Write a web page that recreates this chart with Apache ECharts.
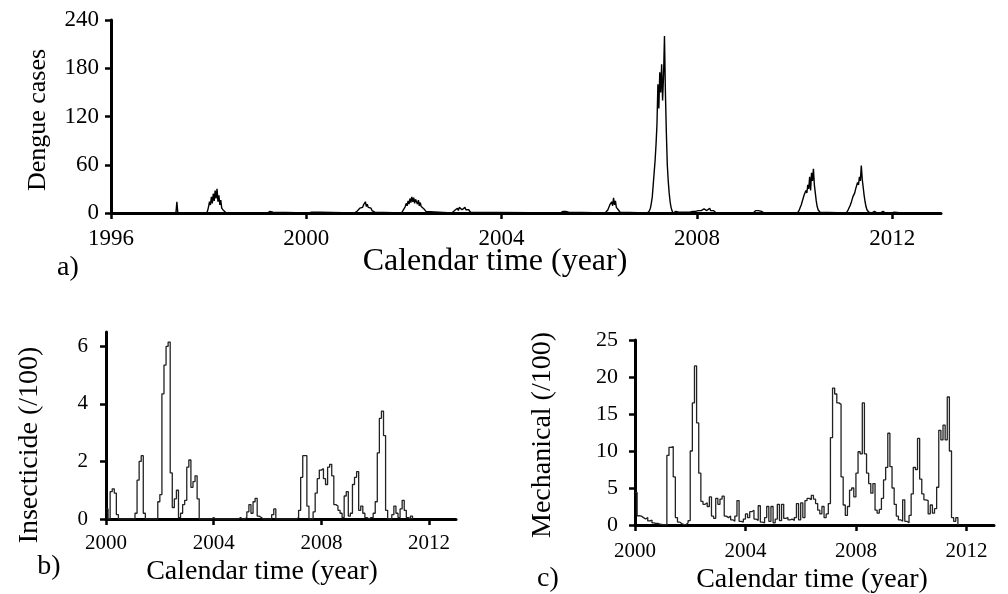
<!DOCTYPE html>
<html>
<head>
<meta charset="utf-8">
<script src="https://cdn.jsdelivr.net/npm/echarts@6/dist/echarts.min.js"></script>
<style>
html,body{margin:0;padding:0;background:#fff;}
#chart{width:1008px;height:594px;}
</style>
</head>
<body>
<div id="chart"></div>
<script>
// ---------- Data ----------
// a) Dengue cases: weekly values during each episode (zero elsewhere)
const dengueWeek = 1 / 52;
const dengueStarts = [1997.33, 1997.96, 1999.20, 2000.05, 2000.98, 2001.95, 2002.98, 2005.20, 2006.12, 2006.99, 2007.55, 2009.15, 2010.06, 2011.06, 2011.58];
const d1997 = [0, 14, 0];
const d1998 = [0, 3, 8, 14, 10, 20, 12, 24, 15, 28, 18, 30, 14, 22, 10, 16, 6, 8, 3, 2, 1, 0];
const d1999 = [0, 1, 0, 2, 1, 3, 1, 0];
const d2000 = [0, 2, 0, 1, 0, 0, 1, 2, 0, 1, 0, 0, 1, 0];
const d2001 = [0, 1, 2, 2, 3, 4, 6, 5, 8, 7, 10, 9, 14, 8, 11, 7, 9, 5, 6, 3, 4, 2, 1, 1, 0];
const d2002 = [0, 2, 4, 6, 8, 12, 9, 15, 11, 18, 13, 20, 14, 19, 12, 17, 15, 11, 16, 9, 13, 8, 10, 6, 5, 3, 2, 1, 0];
const d2003 = [0, 1, 2, 3, 5, 4, 6, 3, 7, 5, 8, 4, 6, 5, 7, 4, 5, 3, 4, 2, 1, 1, 0];
const d2005 = [0, 1, 0, 2, 1, 3, 2, 1, 0, 1, 0];
const d2006 = [0, 1, 2, 4, 6, 10, 8, 14, 9, 19, 10, 15, 7, 9, 4, 2, 1, 0];
const d2007 = [0, 1, 3, 6, 12, 20, 35, 50, 65, 85, 110, 160, 130, 175, 150, 185, 140, 170, 220, 150, 100, 60, 40, 25, 14, 7, 3, 0];
const d2008 = [0, 2, 1, 3, 1, 2, 2, 1, 3, 2, 1, 2, 1, 1, 2, 3, 1, 2, 1, 2, 2, 3, 2, 1, 2, 3, 2, 4, 3, 2, 3, 5, 3, 4, 3, 5, 4, 6, 3, 5, 2, 3, 1, 1, 0];
const d2009 = [0, 2, 1, 3, 2, 1, 3, 2, 1, 2, 1, 2, 0];
const d2010 = [0, 2, 4, 7, 10, 14, 18, 22, 20, 28, 25, 35, 30, 45, 28, 50, 40, 55, 35, 25, 15, 8, 4, 2, 1, 0];
const d2011 = [0, 2, 4, 6, 9, 12, 16, 20, 18, 25, 30, 28, 38, 35, 45, 40, 59, 42, 32, 22, 14, 8, 4, 2, 1, 0];
const d2012 = [0, 1, 0, 2, 1, 1, 0, 2, 1, 0, 1, 1, 2, 0, 1, 0, 0, 1, 0, 0, 1, 0, 0, 0, 1, 0];
const dengueSegments = [d1997, d1998, d1999, d2000, d2001, d2002, d2003, d2005, d2006, d2007, d2008, d2009, d2010, d2011, d2012];

// b) Insecticide (/100), 13 four-week periods per year from 2000 (one row per year)
const periodsPerYear = 13;
const seriesStart = 2000;
const insecticide = [
  0.35, 0, 0.95, 1.05, 0.9, 0.15, 0, 0, 0, 0, 0, 0, 0,
  0, 0.2, 1.35, 2.0, 2.2, 0.2, 0, 0, 0, 0, 0, 0, 0.6,
  0.85, 4.35, 5.35, 6.0, 6.15, 1.6, 0.4, 0.7, 1.0, 0.05, 0.2, 0.5, 0.65,
  1.8, 2.05, 1.1, 1.3, 1.5, 0.7, 0, 0, 0, 0, 0, 0, 0.05,
  0, 0, 0, 0, 0, 0, 0, 0, 0, 0, 0, 0, 0.05,
  0, 0, 0.05, 0.25, 0.5, 0.2, 0.6, 0.72, 0.1, 0.05, 0, 0, 0,
  0, 0, 0.15, 0.35, 0, 0, 0, 0, 0, 0, 0, 0, 0,
  0, 0.05, 0.3, 1.45, 2.2, 2.2, 0.45, 0, 0, 0.25, 0.9, 1.4, 1.7,
  1.75, 1.4, 1.2, 1.8, 1.9, 1.5, 0.5, 0.45, 0.3, 0.2, 0.05, 0.8, 0.95,
  0.1, 0.2, 1.2, 1.45, 1.65, 0.3, 0.45, 0.2, 0.05, 0, 0.05, 0.05, 0.2,
  0.6, 2.3, 3.5, 3.75, 2.9, 0.3, 0, 0, 0.15, 0.45, 0.2, 0.05, 0.35,
  0.65, 0.3, 0.05, 0, 0.1, 0
];

// c) Mechanical (/100), 13 four-week periods per year from 2000 (one row per year)
const mechanical = [
  4.4, 1.25, 1.2, 1.0, 0.8, 1.0, 0.55, 0.65, 0.3, 0.2, 0.2, 0.1, 0.05,
  0, 0, 9.4, 10.5, 10.6, 6.5, 1.0, 0.4, 0.2, 0.05, 0.05, 0.3, 0.6,
  10.0, 16.5, 21.5, 13.8, 7.0, 3.2, 2.8, 3.0, 2.5, 3.8, 1.2, 0.9, 3.6,
  2.8, 3.5, 3.9, 1.2, 1.0, 1.2, 0.7, 0.5, 1.2, 3.3, 0.5, 0.4, 0.8,
  1.5, 1.0, 1.8, 2.0, 0.8, 0.6, 2.6, 0.4, 0.3, 1.0, 2.5, 0.5, 2.5,
  0.3, 0.8, 2.8, 0.6, 2.8, 0.9, 1.0, 0.7, 0.8, 0.6, 1.0, 2.9, 0.7,
  3.0, 1.0, 3.3, 3.6, 3.4, 4.0, 3.5, 2.9, 2.0, 1.5, 2.5, 1.0, 1.5,
  2.9, 11.8, 18.5, 17.7, 16.5, 16.3, 6.5, 2.7, 1.3, 2.5, 4.7, 5.0, 3.8,
  7.0, 9.9, 9.6, 16.5, 9.6, 7.0, 5.6, 4.3, 5.6, 2.0, 1.6, 2.1, 3.6,
  6.1, 7.8, 12.4, 7.9, 5.0, 2.8, 1.2, 0.7, 0.5, 3.4, 0.5, 0.3, 1.3,
  4.2, 7.8, 7.5, 11.7, 6.2, 4.2, 3.4, 3.3, 1.5, 2.7, 1.6, 2.2, 5.1,
  12.8, 11.5, 13.5, 11.5, 17.3, 10.0, 1.0, 0.5, 1.0, 0
];

// Tick values
const topXTicks = [1996, 2000, 2004, 2008, 2012];
const topYTicks = [0, 60, 120, 180, 240];
const bottomXTicks = [2000, 2004, 2008, 2012];
const insectYTicks = [0, 2, 4, 6];
const mechYTicks = [0, 5, 10, 15, 20, 25];

// Text
const xTitle = 'Calendar time (year)';
const yTitleA = 'Dengue cases';
const yTitleB = 'Insecticide (/100)';
const yTitleC = 'Mechanical (/100)';

// ---------- Build series data ----------
const denguePoints = [[1996, 0]];
dengueSegments.forEach((seg, i) => {
  seg.forEach((v, j) => denguePoints.push([dengueStarts[i] + j * dengueWeek, v]));
});
denguePoints.push([2012.2, 0]);
const insectPoints = insecticide.map((v, i) => [seriesStart + i / periodsPerYear, v]);
const mechPoints = mechanical.map((v, i) => [seriesStart + i / periodsPerYear, v]);

const FONT = '"Liberation Serif", "Times New Roman", serif';
const plain = v => String(v);

function xAxis(gridIndex, min, max, ticks, fontSize, margin) {
  return {
    type: 'value', gridIndex, min, max, interval: 4,
    axisLine: { show: true, onZero: false, lineStyle: { color: '#000', width: 3 } },
    axisTick: { show: true, length: 6, customValues: ticks, lineStyle: { color: '#000', width: 2.5 } },
    axisLabel: { customValues: ticks, formatter: plain, color: '#000', fontFamily: FONT, fontSize, margin },
    splitLine: { show: false }
  };
}
function yAxis(gridIndex, min, max, interval, ticks, fontSize, margin) {
  return {
    type: 'value', gridIndex, min, max, interval,
    axisLine: { show: true, onZero: false, lineStyle: { color: '#000', width: 3 } },
    axisTick: { show: true, length: 6, customValues: ticks, lineStyle: { color: '#000', width: 2.5 } },
    axisLabel: { customValues: ticks, formatter: plain, color: '#000', fontFamily: FONT, fontSize, margin },
    splitLine: { show: false }
  };
}
function label(text, x, y, size, rotate) {
  return {
    type: 'text', x, y, rotation: rotate ? Math.PI / 2 : 0,
    style: { text, fill: '#000', font: size + 'px ' + FONT, textAlign: 'center', textVerticalAlign: 'middle' }
  };
}

const chart = echarts.init(document.getElementById('chart'), null, { renderer: 'canvas' });
chart.setOption({
  animation: false,
  backgroundColor: '#fff',
  grid: [
    { left: 111, top: 20, width: 830, height: 193 },
    { left: 106, top: 332, width: 350, height: 187 },
    { left: 635, top: 340, width: 359, height: 185 }
  ],
  xAxis: [
    xAxis(0, 1996, 2013, topXTicks, 23, 14),
    xAxis(1, 2000, 2013, bottomXTicks, 21, 14),
    xAxis(2, 2000, 2013, bottomXTicks, 21, 16)
  ],
  yAxis: [
    yAxis(0, 0, 240, 60, topYTicks, 23, 12),
    yAxis(1, 0, 6.5, 2, insectYTicks, 21, 18),
    yAxis(2, 0, 25, 5, mechYTicks, 22, 17)
  ],
  series: [
    { type: 'line', xAxisIndex: 0, yAxisIndex: 0, data: denguePoints, showSymbol: false, sampling: null,
      lineStyle: { color: '#000', width: 1.4 }, z: 1 },
    { type: 'line', xAxisIndex: 1, yAxisIndex: 1, data: insectPoints, step: 'end', showSymbol: false,
      lineStyle: { color: '#222', width: 1.3 }, z: 1 },
    { type: 'line', xAxisIndex: 2, yAxisIndex: 2, data: mechPoints, step: 'end', showSymbol: false,
      lineStyle: { color: '#222', width: 1.3 }, z: 1 }
  ],
  graphic: [
    label(yTitleA, 38, 120, 26, true),
    label(xTitle, 495, 262, 32, false),
    label('a)', 68, 268, 28, false),
    label(yTitleB, 30, 445, 28, true),
    label('b)', 49, 567, 28, false),
    label(xTitle, 262, 572, 28, false),
    label(yTitleC, 543, 435, 28, true),
    label('c)', 548, 579, 28, false),
    label(xTitle, 812, 580, 28, false)
  ]
});
</script>
</body>
</html>
